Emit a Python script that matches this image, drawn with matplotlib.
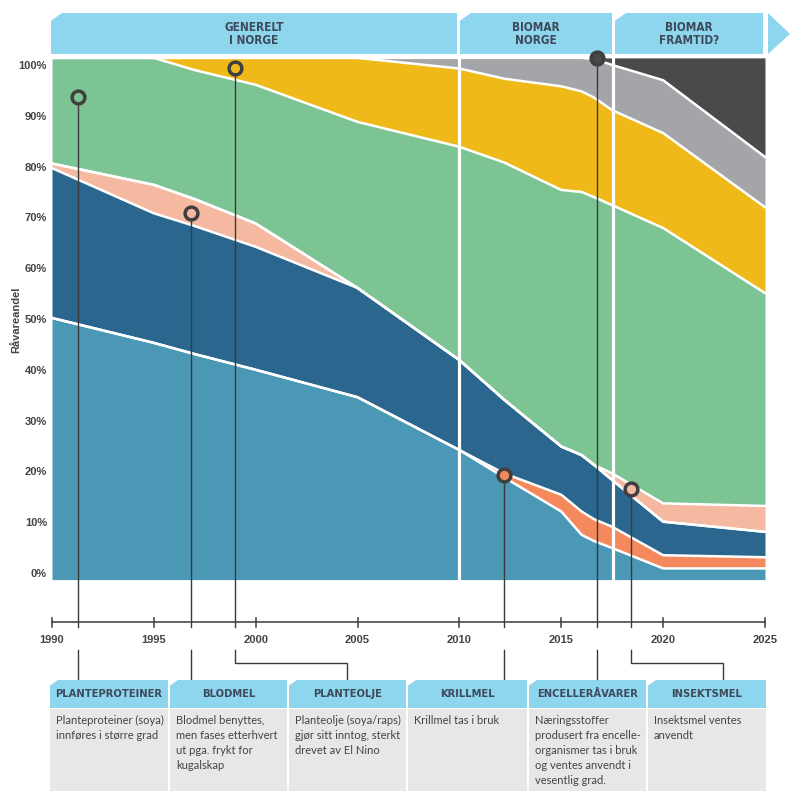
import numpy as np
import matplotlib.pyplot as plt
from matplotlib.patches import Polygon

# shares of raw materials (percent)
years = [1990, 1995, 1997, 2000, 2005, 2010, 2012.2, 2015, 2016, 2016.6, 2017.5, 2020, 2025]
fiskemel = [50.4, 45.5, 43.3, 40.2, 34.8, 24.4, 19.0, 12.3, 7.7, 6.5, 5.1, 1.1, 1.1]
krillmel = [0, 0, 0, 0, 0, 0, 0.8, 3.3, 4.6, 4.3, 4.2, 2.6, 2.2]
fiskeolje = [29.5, 25.5, 25.2, 24.2, 21.5, 17.7, 14.5, 9.5, 11.1, 10.7, 9.2, 6.6, 5.0]
blodmel = [0.9, 5.6, 5.3, 4.6, 0, 0, 0, 0, 0, 0, 0, 0, 0]
insektsmel = [0, 0, 0, 0, 0, 0, 0, 0, 0, 0, 1.3, 3.6, 5.1]
planteprotein = [20.8, 25.0, 25.4, 27.3, 32.7, 42.0, 46.7, 50.5, 51.8, 52.7, 52.8, 54.2, 41.9]
planteolje = [0, 0, 2.4, 5.3, 12.6, 15.4, 16.5, 20.4, 19.8, 19.6, 18.7, 18.7, 16.9]
andre = [0, 0, 0, 0, 0, 2.1, 4.1, 5.6, 6.6, 7.6, 8.9, 10.4, 9.9]
encelle = [0, 0, 0, 0, 0, 0, 0, 0, 0, 0.2, 1.4, 4.4, 19.5]

# event markers
marker_years = [1991.3, 1996.8, 1999.0, 2012.2, 2016.75, 2018.4]
marker_vals = [93.9, 71.1, 99.6, 19.5, 101.6, 16.7]
marker_faces = ['#7dc495', '#f4b9a0', '#f0b91a', '#f4895e', '#4a4a4c', '#f4b9a0']

box_titles = ['PLANTEPROTEINER', 'BLODMEL', 'PLANTEOLJE', 'KRILLMEL', 'ENCELLERÅVARER', 'INSEKTSMEL']
box_texts = ['Planteproteiner (soya)\ninnføres i større grad',
             'Blodmel benyttes,\nmen fases etterhvert\nut pga. frykt for\nkugalskap',
             'Planteolje (soya/raps)\ngjør sitt inntog, sterkt\ndrevet av El Nino',
             'Krillmel tas i bruk',
             'Næringsstoffer\nprodusert fra encelle-\norganismer tas i bruk\nog ventes anvendt i\nvesentlig grad.',
             'Insektsmel ventes\nanvendt']

period_labels = ['GENERELT\nI NORGE', 'BIOMAR\nNORGE', 'BIOMAR\nFRAMTID?']
x_ticks = [1990, 1995, 2000, 2005, 2010, 2015, 2020, 2025]
y_ticks = [0, 10, 20, 30, 40, 50, 60, 70, 80, 90, 100]

# pixel helpers for the layout
PX_YEAR = 713 / 35
PX_PCT = 5.08
def dx(px):
    return 1990 + (px - 52) / PX_YEAR
def dy(py):
    return (574 - py) / PX_PCT

dark = '#3d4a5a'
grey_txt = '#444444'
banner_c = '#8ed5ee'
cond = dict(family='DejaVu Sans', fontstretch='condensed', fontweight='bold')
arial = ['Liberation Sans', 'DejaVu Sans']

fig = plt.figure(figsize=(8, 7.94), dpi=100)
ax = fig.add_axes([0, 0, 1, 1])
ax.set_xlim(dx(0), dx(800))
ax.set_ylim(dy(794), dy(0))
ax.axis('off')

# stacked areas
layers = [(fiskemel, '#4b98b6'), (krillmel, '#f4895e'), (fiskeolje, '#2a668e'),
          (blodmel, '#f4b9a0'), (insektsmel, '#f4b9a0'), (planteprotein, '#7dc495'),
          (planteolje, '#f0b91a'), (andre, '#a4a5a8'), (encelle, '#4a4a4c')]
bottom = np.zeros(len(years))
tops = []
for i, (vals, col) in enumerate(layers):
    top = bottom + np.array(vals)
    lower = bottom - 1.1 if i == 0 else bottom
    ax.fill_between(years, lower, top, color=col, lw=0, zorder=1)
    tops.append(top)
    bottom = top
for top in tops[:-1]:
    ax.plot(years, top, color='white', lw=1.8, zorder=2, solid_joinstyle='miter')
for xv in [dx(459), dx(613)]:
    ax.plot([xv, xv], [-1.1, bottom.max()], color='white', lw=2.3, zorder=3)

# top banner
def chamfer(x0, x1, y0, y1, c, cut=9):
    pts = [(dx(x0), dy(y0 + cut * 0.7)), (dx(x0 + cut), dy(y0)), (dx(x1), dy(y0)),
           (dx(x1), dy(y1)), (dx(x0), dy(y1))]
    ax.add_patch(Polygon(pts, closed=True, fc=c, ec='none', zorder=4))

banner_px = [(51, 457), (460, 612), (615, 763)]
for (x0, x1), lab in zip(banner_px, period_labels):
    chamfer(x0, x1, 13, 54, banner_c, cut=11)
    ax.text(dx((x0 + x1) / 2), dy(34), lab, ha='center', va='center', fontsize=8.5,
            color=dark, linespacing=1.05, zorder=5, **cond)
ax.add_patch(Polygon([(dx(768), dy(13)), (dx(790), dy(34)), (dx(768), dy(54))],
                     closed=True, fc=banner_c, ec='none', zorder=4))

# y axis labels
for v in y_ticks:
    ax.text(dx(47), v, f'{v}%', ha='right', va='center', fontsize=8,
            fontweight='bold', color=grey_txt, family=arial)
ax.text(dx(16), dy(320), 'Råvareandel', rotation=90, ha='center', va='center',
        fontsize=8, fontweight='bold', color=grey_txt, family=arial)

# timeline
line_c = '#3a3a3a'
ax.plot([1990, 2025], [dy(622), dy(622)], color=line_c, lw=1.1, zorder=3)
for yr in x_ticks:
    ax.plot([yr, yr], [dy(618), dy(627)], color=line_c, lw=1.1, zorder=3)
    ax.text(yr, dy(640), str(yr), ha='center', va='center', fontsize=8,
            fontweight='bold', color=grey_txt, family=arial)

# markers and connectors
drop_px = [78, 191, 347, 505, 597, 723]
for yr, val, fc, dp in zip(marker_years, marker_vals, marker_faces, drop_px):
    ax.plot([yr, yr], [val, dy(627)], color=line_c, lw=1.0, zorder=6)
    xd = dx(dp)
    if abs(xd - yr) > 0.3:
        ax.plot([yr, yr, xd, xd], [dy(650), dy(663), dy(663), dy(680)], color=line_c, lw=1.0)
    else:
        ax.plot([yr, yr], [dy(650), dy(680)], color=line_c, lw=1.0)
    ax.plot(yr, val, 'o', ms=9.2, mfc=fc, mec='#3f3f3f', mew=2.5, zorder=7)

# boxes
box_px = [(50, 168), (170, 287), (289, 406), (408, 527), (529, 646), (648, 766)]
for (x0, x1), title, txt in zip(box_px, box_titles, box_texts):
    chamfer(x0, x1, 680, 708, banner_c, cut=8)
    ax.add_patch(Polygon([(dx(x0), dy(709)), (dx(x1), dy(709)), (dx(x1), dy(791)),
                          (dx(x0), dy(791))], closed=True, fc='#e7e7e7', ec='none', zorder=4))
    ax.text(dx((x0 + x1) / 2), dy(694), title, ha='center', va='center', fontsize=8,
            color=dark, zorder=5, **cond)
    ax.text(dx(x0 + 6), dy(715), txt, ha='left', va='top', family=['Lato', 'DejaVu Sans'],
            fontsize=8, color=grey_txt, linespacing=1.45, zorder=5)

fig.savefig('out.png', dpi=100)
